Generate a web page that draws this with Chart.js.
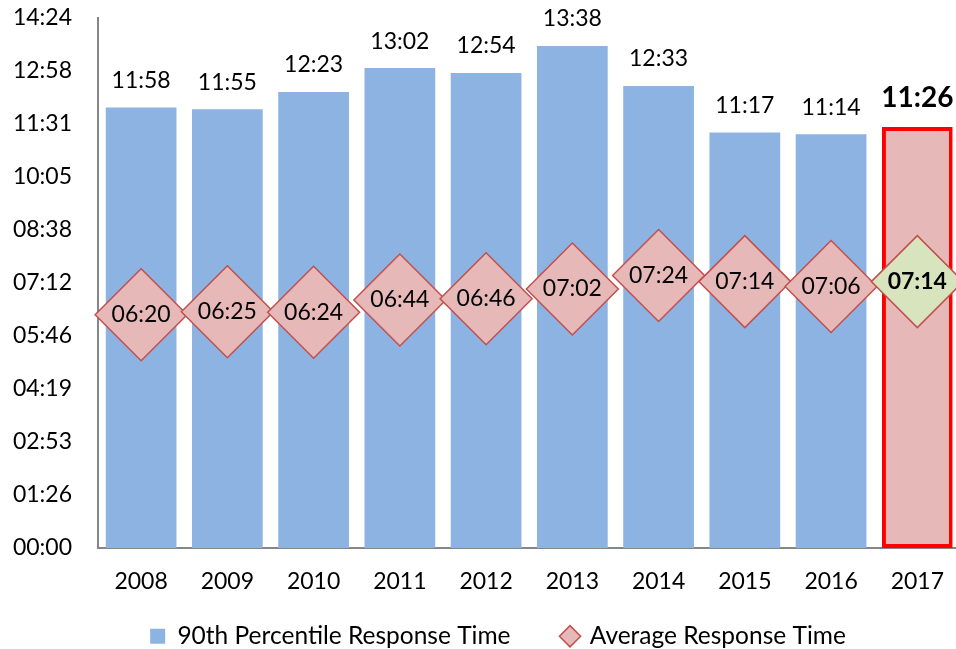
<!DOCTYPE html>
<html>
<head>
<meta charset="utf-8">
<script src="https://cdn.jsdelivr.net/npm/chart.js@4"></script>
<style>
  html, body { margin: 0; padding: 0; background: #fff; overflow: hidden; width: 956px; height: 649px; }
  #c { position: absolute; left: 0; top: -22px; }
</style>
</head>
<body>
<canvas id="c" width="964" height="724" style="width:964px;height:724px"></canvas>
<script>
const years = ['2008','2009','2010','2011','2012','2013','2014','2015','2016','2017'];
const p90Times = ['11:58','11:55','12:23','13:02','12:54','13:38','12:33','11:17','11:14','11:26'];
const avgTimes = ['06:20','06:25','06:24','06:44','06:46','07:02','07:24','07:14','07:06','07:14'];
const yTickLabels = ['00:00','01:26','02:53','04:19','05:46','07:12','08:38','10:05','11:31','12:58','14:24'];
const yTickValues = [0, 86.4, 172.8, 259.2, 345.6, 432, 518.4, 604.8, 691.2, 777.6, 864];

const toSec = s => { const [m, x] = s.split(':').map(Number); return m * 60 + x; };
const p90Sec = p90Times.map(toSec);
const avgSec = avgTimes.map(toSec);
const last = years.length - 1;

const FONT = 'Lato';

const labelPlugin = {
  id: 'valueLabels',
  afterDatasetsDraw(chart) {
    const ctx = chart.ctx;
    ctx.save();
    ctx.fillStyle = '#000';
    ctx.textAlign = 'center';
    ctx.textBaseline = 'middle';
    const bars = chart.getDatasetMeta(0).data;
    bars.forEach((el, i) => {
      const hl = i === last;
      ctx.font = (hl ? 'bold 28px ' : '23px ') + FONT;
      ctx.fillText(p90Times[i], el.x, el.y - (hl ? 29 : 27));
    });
    const pts = chart.getDatasetMeta(1).data;
    pts.forEach((el, i) => {
      const hl = i === last;
      ctx.font = (hl ? 'bold 23px ' : '23px ') + FONT;
      ctx.fillText(avgTimes[i], el.x, el.y);
    });
    ctx.restore();
  }
};

const legendPlace = {
  id: 'legendPlace',
  afterLayout(chart) {
    const lg = chart.legend;
    if (!lg) return;
    const d = 594 - lg.top;
    lg.top += d; lg.bottom += d;
    lg.left += 16; lg.right += 16;
  }
};

new Chart(document.getElementById('c'), {
  data: {
    labels: years,
    datasets: [
      {
        type: 'bar',
        label: '90th Percentile Response Time',
        data: p90Sec,
        order: 2,
        backgroundColor: years.map((y, i) => i === last ? '#E6B9B8' : '#8DB3E2'),
        borderColor: years.map((y, i) => i === last ? '#FF0000' : 'rgba(0,0,0,0)'),
        borderWidth: years.map((y, i) => i === last ? 4 : 0),
        borderSkipped: false,
        barPercentage: 0.82,
        categoryPercentage: 1.0,
        pointStyle: 'rect'
      },
      {
        type: 'line',
        label: 'Average Response Time',
        data: avgSec,
        order: 1,
        showLine: false,
        clip: false,
        pointStyle: 'rectRot',
        pointRadius: 46,
        pointHoverRadius: 46,
        pointBackgroundColor: years.map((y, i) => i === last ? '#D7E4BD' : '#E6B9B8'),
        pointBorderColor: '#C0504D',
        pointBorderWidth: 1.5,
        backgroundColor: '#E6B9B8',
        borderColor: '#C0504D'
      }
    ]
  },
  options: {
    responsive: false,
    animation: false,
    layout: { autoPadding: false, padding: { top: 4, left: 0, right: 0, bottom: 0 } },
    plugins: {
      tooltip: { enabled: false },
      legend: {
        position: 'bottom',
        labels: {
          usePointStyle: true,
          boxWidth: 15,
          boxHeight: 15,
          padding: 52,
          color: '#000',
          font: { family: FONT, size: 24.5 },
          sort: (a, b) => a.datasetIndex - b.datasetIndex
        }
      }
    },
    scales: {
      x: {
        grid: { display: false, drawTicks: false },
        border: { display: true, color: '#868686', width: 2 },
        ticks: { color: '#000', font: { family: FONT, size: 23 }, padding: 20, maxRotation: 0 }
      },
      y: {
        min: 0,
        max: 864,
        grid: { display: false, drawTicks: false },
        border: { display: true, color: '#868686', width: 2 },
        afterBuildTicks: axis => { axis.ticks = yTickValues.map(v => ({ value: v })); },
        afterFit: s => { s.width = 98; },
        ticks: {
          color: '#000',
          font: { family: FONT, size: 23 },
          padding: 26,
          autoSkip: false,
          callback: (v, i) => yTickLabels[i]
        }
      }
    }
  },
  plugins: [labelPlugin, legendPlace]
});
</script>
</body>
</html>
